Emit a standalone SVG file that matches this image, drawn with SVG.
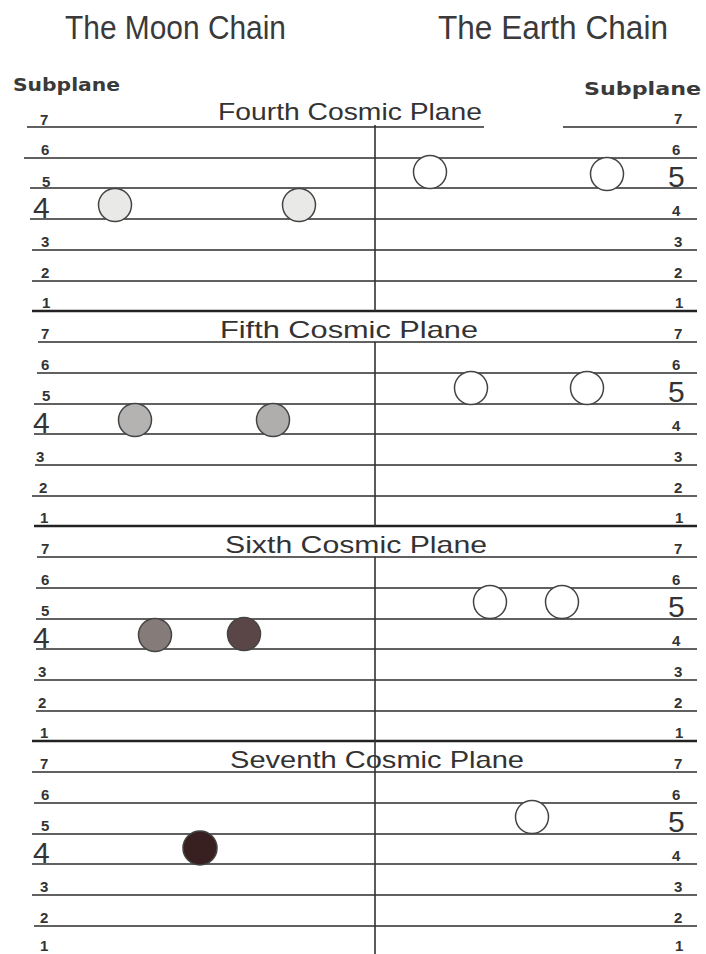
<svg xmlns="http://www.w3.org/2000/svg" width="706" height="954" viewBox="0 0 706 954">
<style>
  .bg{fill:#ffffff}
  .ln{stroke:#2e2e2e;stroke-width:1.6;fill:none}
  .lnb{stroke:#222;stroke-width:2.6;fill:none}
  .vl{stroke:#333;stroke-width:1.6}
  .hd{font-family:"Liberation Sans","DejaVu Sans",sans-serif;font-size:33px;fill:#3a3a3a}
  .sub{font-family:"DejaVu Sans","Liberation Sans",sans-serif;font-size:18px;font-weight:600;fill:#3a3a3a}
  .tt{font-family:"Liberation Sans","DejaVu Sans",sans-serif;font-size:24px;fill:#333}
  .n{font-family:"Liberation Sans","DejaVu Sans",sans-serif;font-size:15px;font-weight:bold;fill:#333}
  .nb{font-family:"Liberation Sans","DejaVu Sans",sans-serif;font-size:30px;fill:#333}
  .c{stroke:#444;stroke-width:1.5}
  .white{fill:#ffffff}
</style>
<rect class="bg" x="0" y="0" width="706" height="954"/>

<g id="headers">
  <text class="hd" x="65" y="39" textLength="221" lengthAdjust="spacingAndGlyphs">The Moon Chain</text>
  <text class="hd" x="438" y="39" textLength="230" lengthAdjust="spacingAndGlyphs">The Earth Chain</text>
  <text class="sub" x="13" y="91" textLength="107" lengthAdjust="spacingAndGlyphs">Subplane</text>
  <text class="sub" x="584" y="95" textLength="117" lengthAdjust="spacingAndGlyphs">Subplane</text>
</g>

<g id="lines">
  <path class="ln" d="M27 127 H484 M563 127 H697"/>
  <path class="ln" d="M24 158 H697 M30 188 H697 M30 219 H697 M32 250 H697 M32 281 H697"/>
  <path class="lnb" d="M32 311 H697"/>
  <path class="ln" d="M38 342 H697 M37 373 H697 M34 404 H697 M34 434 H697 M35 465 H697 M32 496 H697"/>
  <path class="lnb" d="M34 526 H697"/>
  <path class="ln" d="M37 557 H697 M36 588 H697 M36 619 H697 M36 649 H697 M34 680 H697 M36 711 H697"/>
  <path class="lnb" d="M32 741 H697"/>
  <path class="ln" d="M32 772 H697 M34 803 H697 M32 834 H697 M32 864 H697 M32 895 H697 M34 926 H697"/>
  <path class="vl" d="M375 125 V311 M375 342 V526 M375 557 V741 M375 730 V954"/>
</g>

<g id="plane-titles">
  <text class="tt" x="218" y="120" textLength="264" lengthAdjust="spacingAndGlyphs">Fourth Cosmic Plane</text>
  <text class="tt" x="220" y="338" textLength="258" lengthAdjust="spacingAndGlyphs">Fifth Cosmic Plane</text>
  <text class="tt" x="225" y="553" textLength="262" lengthAdjust="spacingAndGlyphs">Sixth Cosmic Plane</text>
  <text class="tt" x="230" y="768" textLength="294" lengthAdjust="spacingAndGlyphs">Seventh Cosmic Plane</text>
</g>

<g id="left-numbers">
  <text class="n" x="40" y="125">7</text>
  <text class="n" x="41" y="155">6</text>
  <text class="n" x="42" y="187">5</text>
  <text class="nb" x="33" y="218">4</text>
  <text class="n" x="41" y="247">3</text>
  <text class="n" x="41" y="278">2</text>
  <text class="n" x="42" y="308">1</text>

  <text class="n" x="41" y="339">7</text>
  <text class="n" x="41" y="370">6</text>
  <text class="n" x="42" y="401">5</text>
  <text class="nb" x="33" y="433">4</text>
  <text class="n" x="36" y="462">3</text>
  <text class="n" x="39" y="493">2</text>
  <text class="n" x="40" y="523">1</text>

  <text class="n" x="41" y="554">7</text>
  <text class="n" x="41" y="585">6</text>
  <text class="n" x="41" y="616">5</text>
  <text class="nb" x="33" y="648">4</text>
  <text class="n" x="38" y="677">3</text>
  <text class="n" x="38" y="708">2</text>
  <text class="n" x="40" y="738">1</text>

  <text class="n" x="40" y="769">7</text>
  <text class="n" x="41" y="800">6</text>
  <text class="n" x="41" y="831">5</text>
  <text class="nb" x="33" y="863">4</text>
  <text class="n" x="40" y="892">3</text>
  <text class="n" x="40" y="923">2</text>
  <text class="n" x="40" y="951">1</text>
</g>

<g id="right-numbers">
  <text class="n" x="674" y="124">7</text>
  <text class="n" x="672" y="155">6</text>
  <text class="nb" x="668" y="187">5</text>
  <text class="n" x="672" y="216">4</text>
  <text class="n" x="674" y="247">3</text>
  <text class="n" x="674" y="278">2</text>
  <text class="n" x="675" y="308">1</text>

  <text class="n" x="674" y="339">7</text>
  <text class="n" x="672" y="370">6</text>
  <text class="nb" x="668" y="402">5</text>
  <text class="n" x="672" y="431">4</text>
  <text class="n" x="674" y="462">3</text>
  <text class="n" x="674" y="493">2</text>
  <text class="n" x="675" y="523">1</text>

  <text class="n" x="674" y="554">7</text>
  <text class="n" x="672" y="585">6</text>
  <text class="nb" x="668" y="617">5</text>
  <text class="n" x="672" y="646">4</text>
  <text class="n" x="674" y="677">3</text>
  <text class="n" x="674" y="708">2</text>
  <text class="n" x="675" y="738">1</text>

  <text class="n" x="674" y="769">7</text>
  <text class="n" x="672" y="800">6</text>
  <text class="nb" x="668" y="832">5</text>
  <text class="n" x="672" y="861">4</text>
  <text class="n" x="674" y="892">3</text>
  <text class="n" x="674" y="923">2</text>
  <text class="n" x="675" y="951">1</text>
</g>

<g id="moon-fourth">
  <circle class="c" cx="115" cy="205" r="16.5" fill="#e9e9e7"/>
  <circle class="c" cx="299" cy="205" r="16.5" fill="#e9e9e7"/>
</g>
<g id="earth-fourth">
  <circle class="c white" cx="430" cy="172" r="16.5"/>
  <circle class="c white" cx="607" cy="174" r="16.5"/>
</g>
<g id="moon-fifth">
  <circle class="c" cx="135" cy="420" r="16.5" fill="#b5b3b1"/>
  <circle class="c" cx="273" cy="420" r="16.5" fill="#b0aeac"/>
</g>
<g id="earth-fifth">
  <circle class="c white" cx="471" cy="388" r="16.5"/>
  <circle class="c white" cx="587" cy="388" r="16.5"/>
</g>
<g id="moon-sixth">
  <circle class="c" cx="155" cy="635" r="16.5" fill="#857b78"/>
  <circle class="c" cx="244" cy="634" r="16.5" fill="#5a4646"/>
</g>
<g id="earth-sixth">
  <circle class="c white" cx="490" cy="602" r="16.5"/>
  <circle class="c white" cx="562" cy="602" r="16.5"/>
</g>
<g id="moon-seventh">
  <circle class="c" cx="200" cy="848" r="17" fill="#382020"/>
</g>
<g id="earth-seventh">
  <circle class="c white" cx="532" cy="817" r="16.5"/>
</g>
</svg>
